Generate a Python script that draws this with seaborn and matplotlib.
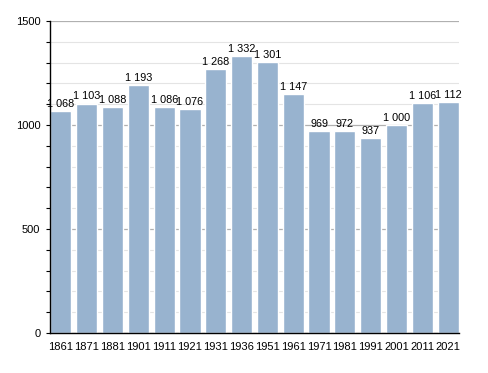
import matplotlib
matplotlib.use("Agg")
import matplotlib.pyplot as plt
from matplotlib.ticker import MultipleLocator
import seaborn as sns

# population by census year
years = ["1861", "1871", "1881", "1901", "1911", "1921", "1931", "1936",
         "1951", "1961", "1971", "1981", "1991", "2001", "2011", "2021"]
population = [1068, 1103, 1088, 1193, 1086, 1076, 1268, 1332,
              1301, 1147, 969, 972, 937, 1000, 1106, 1112]
bar_labels = [f"{v:,}".replace(",", " ") for v in population]

sns.set_style("white")
plt.rcParams["font.family"] = ["Liberation Sans", "DejaVu Sans"]
plt.rcParams["text.color"] = "black"

fig = plt.figure(figsize=(4.88, 3.73), dpi=100)
ax = fig.add_axes([0.1025, 0.1072, 0.838, 0.8365])

sns.barplot(x=years, y=population, color="#98b3cf", saturation=1,
            width=0.82, ax=ax, zorder=2)

ax.bar_label(ax.containers[0], labels=bar_labels, padding=1.5,
             fontsize=7.8, color="black")

ax.set_ylim(0, 1500)
ax.set_xlim(-0.42, 15.42)
ax.yaxis.set_major_locator(MultipleLocator(500))
ax.yaxis.set_minor_locator(MultipleLocator(100))
ax.grid(axis="y", which="major", color="#b0b0b0", linewidth=0.9, zorder=0)
ax.grid(axis="y", which="minor", color="#e4e4e4", linewidth=0.8, zorder=0)
ax.set_axisbelow(True)

for side in ["top", "right"]:
    ax.spines[side].set_visible(False)
for side in ["left", "bottom"]:
    ax.spines[side].set_color("black")
    ax.spines[side].set_linewidth(1)

ax.tick_params(axis="y", which="both", left=True, length=3, width=0.8,
               labelsize=8, pad=4, color="black", labelcolor="black")
ax.tick_params(axis="x", bottom=False, labelsize=8, pad=3,
               labelcolor="black")
ax.set_xlabel("")
ax.set_ylabel("")

fig.savefig("out.png", dpi=100)
